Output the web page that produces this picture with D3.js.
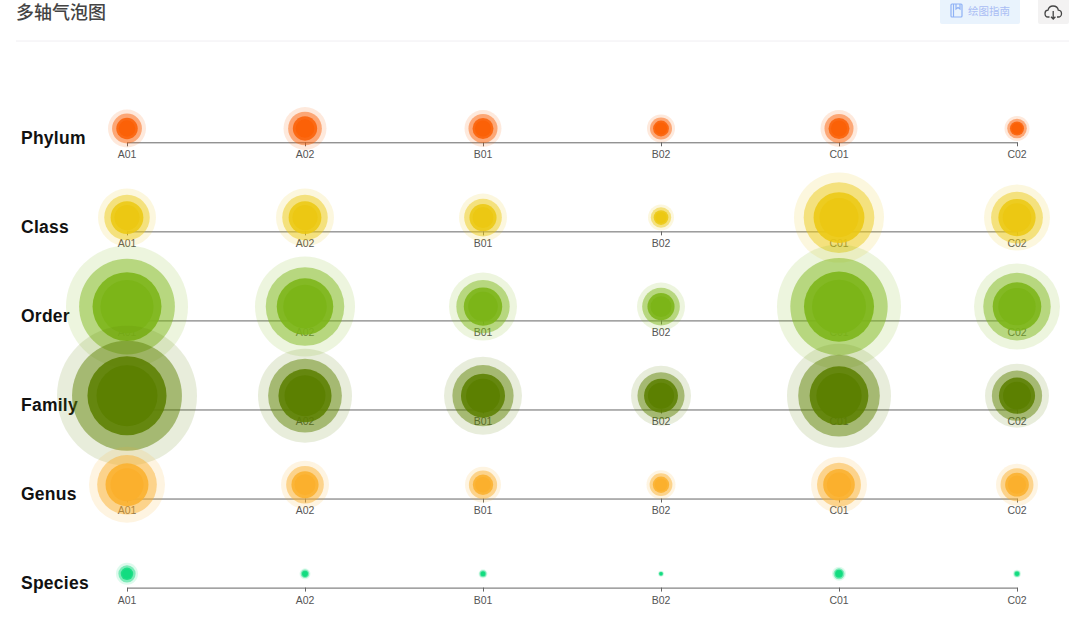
<!DOCTYPE html>
<html>
<head>
<meta charset="utf-8">
<script src="https://cdn.jsdelivr.net/npm/d3@7"></script>
<style>
  html, body { margin: 0; padding: 0; background: #fff; }
  svg { display: block; }
  .tick text { font-family: "Liberation Sans", Arial, sans-serif; font-size: 10.5px; fill: #555; }
  .row-label { font-family: "Liberation Sans", Arial, sans-serif; font-size: 17.5px; font-weight: bold; letter-spacing: 0.25px; fill: #111; }
</style>
</head>
<body>
<div id="chart"></div>
<script>
var samples = ["A01", "A02", "B01", "B02", "C01", "C02"];
var ranks = ["Phylum", "Class", "Order", "Family", "Genus", "Species"];
var colors = ["#fb6107", "#ecc813", "#7cb518", "#5c8001", "#fbb02d", "#12dc80"];

// bubble size per sample (area units)
var phylum = [361, 462, 342, 196, 342, 156];
var classRank = [841, 841, 576, 169, 2025, 1089];
var order = [3721, 2500, 1156, 576, 3844, 1849];
var family = [4900, 2209, 1521, 900, 2704, 1024];
var genus = [1444, 576, 324, 210, 784, 441];
var species = [121, 30, 20, 9, 49, 16];
var series = [phylum, classRank, order, family, genus, species];

// each bubble is four stacked rings
var ringScale = [1, 0.785, 0.565, 0.435];
var ringAlpha = [0.14, 0.48, 0.88, 1];

var width = 1080, height = 621;

var svg = d3.select("#chart").append("svg")
	.attr("width", width)
	.attr("height", height);

var x = d3.scalePoint().domain(samples).range([127, 1017]);
var y = d3.scalePoint().domain(ranks).range([142.3, 587.6]);
var r = d3.scaleSqrt().domain([0, 4900]).range([0, 70]);

// header
svg.append("text")
	.attr("x", 16).attr("y", 19)
	.style("font-family", '"Noto Sans CJK SC"')
	.style("font-size", "18px")
	.style("font-weight", 500)
	.style("fill", "#444")
	.text("多轴气泡图");

svg.append("line")
	.attr("x1", 16).attr("x2", 1069)
	.attr("y1", 41).attr("y2", 41)
	.attr("stroke", "#f0eef2");

svg.append("rect")
	.attr("x", 940).attr("y", -3)
	.attr("width", 80).attr("height", 27)
	.attr("rx", 2)
	.attr("fill", "#e9f3fd");

var book = svg.append("g")
	.attr("fill", "none")
	.attr("stroke", "#8fb2f5")
	.attr("stroke-width", 1.2);
book.append("rect").attr("x", 951).attr("y", 4).attr("width", 11).attr("height", 13).attr("rx", 1);
book.append("path").attr("d", "M953.5 4V17M956 4V9L958 7.5L960 9V4");

svg.append("text")
	.attr("x", 968).attr("y", 15)
	.style("font-family", '"Noto Sans CJK SC"')
	.style("font-size", "10.5px")
	.style("fill", "#a9bdf4")
	.text("绘图指南");

svg.append("rect")
	.attr("x", 1038).attr("y", -3)
	.attr("width", 31).attr("height", 27)
	.attr("rx", 2)
	.attr("fill", "#f3f2f2");

svg.append("path")
	.attr("d", "M1049.5 17H1048C1045.5 17 1045 14.8 1045 13.5C1045 11.5 1046.5 10.3 1048 10.2C1048.6 7.2 1051 6 1053 6C1056 6 1058 8 1058.3 10.2C1060.3 10.4 1061.5 12 1061.5 13.7C1061.5 15.5 1060 17 1058.5 17H1057M1053.2 11V19M1051 16.8L1053.2 19L1055.4 16.8")
	.attr("fill", "none")
	.attr("stroke", "#444")
	.attr("stroke-width", 1.3);

// one row per rank, later rows sit on top of earlier ones
ranks.forEach(function(rank, i) {
	var row = svg.append("g").attr("class", "row");

	var axis = row.append("g")
		.attr("transform", "translate(0," + y(rank) + ")")
		.call(d3.axisBottom(x).tickSize(4).tickSizeOuter(0).tickPadding(4.5));
	axis.select(".domain").attr("stroke", "#666");
	axis.selectAll(".tick line").attr("stroke", "#666");
	axis.selectAll(".tick text").attr("dx", -0.5);

	row.append("text")
		.attr("class", "row-label")
		.attr("x", 21)
		.attr("y", y(rank) + 1.5)
		.text(rank);

	var bubble = row.selectAll(".bubble")
		.data(series[i])
		.enter().append("g")
		.attr("class", "bubble")
		.attr("transform", function(d, j) {
			return "translate(" + x(samples[j]) + "," + (y(rank) - 13.8) + ")";
		});

	ringScale.forEach(function(k, m) {
		bubble.append("circle")
			.attr("r", function(d) { return r(d) * k; })
			.attr("fill", colors[i])
			.attr("fill-opacity", ringAlpha[m]);
	});
});
</script>
</body>
</html>
